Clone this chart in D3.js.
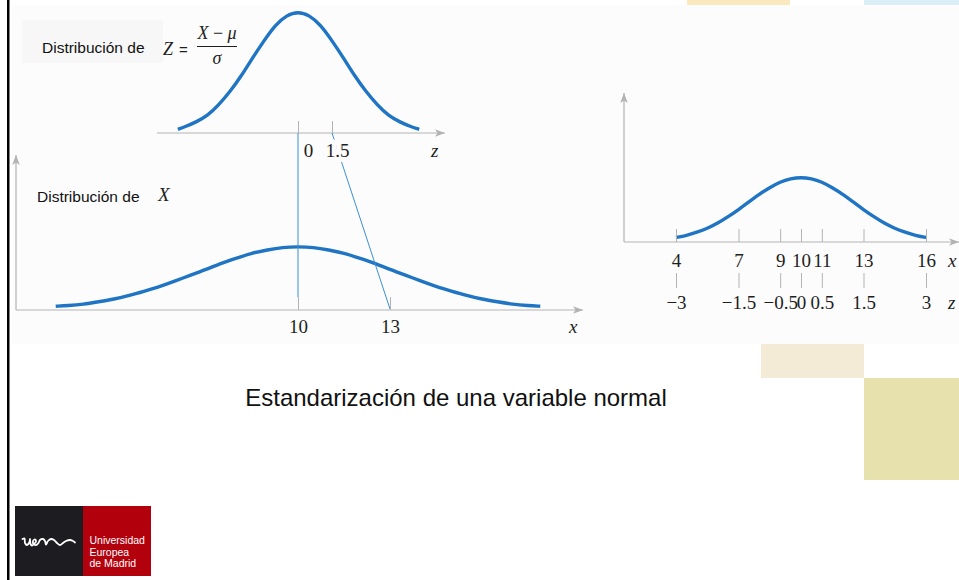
<!DOCTYPE html>
<html>
<head>
<meta charset="utf-8">
<script src="https://cdn.jsdelivr.net/npm/d3@7"></script>
<style>
  html, body { margin: 0; padding: 0; background: #fff; overflow: hidden; }
  svg { display: block; }
</style>
</head>
<body>
<div id="box1"><svg id="box1_svg"></svg></div>
<script>
"use strict";

// ---- data ----

// top panel: Z = (X - mu) / sigma
const z_ticks = [0, 1.5];
const z_tick_labels = ["0", "1.5"];
const z_curve_z = [-5.3, -5, -4.5, -4, -3.5, -3, -2.5, -2, -1.5, -1, -0.5, 0,
  0.5, 1, 1.5, 2, 2.5, 3, 3.5, 4, 4.5, 5, 5.35];
const z_curve_h = [0.03, 0.05, 0.09, 0.14, 0.23, 0.34, 0.47, 0.62, 0.76, 0.89, 0.97, 1,
  0.97, 0.89, 0.76, 0.62, 0.47, 0.34, 0.23, 0.14, 0.09, 0.05, 0.03];

// bottom left panel: X
const x_ticks = [10, 13];
const x_tick_labels = ["10", "13"];
const x_curve_x = [2.1, 2.5, 3, 3.5, 4, 4.5, 5, 5.5, 6, 6.5, 7, 7.5, 8, 8.5, 9, 9.5, 10,
  10.5, 11, 11.5, 12, 12.5, 13, 13.5, 14, 14.5, 15, 15.5, 16, 16.5, 17, 17.5, 17.9];
const x_curve_h = [0.06, 0.07, 0.09, 0.13, 0.17, 0.23, 0.30, 0.37, 0.46, 0.55, 0.64, 0.74, 0.82, 0.90, 0.95, 0.99, 1,
  0.99, 0.95, 0.90, 0.82, 0.74, 0.64, 0.55, 0.46, 0.37, 0.30, 0.23, 0.17, 0.13, 0.09, 0.07, 0.06];

// links z -> x
const link_z = [0, 1.5];
const link_x = [10, 13];

// right panel: x and z scales together
const r_ticks = [4, 7, 9, 10, 11, 13, 16];
const r_tick_labels = ["4", "7", "9", "10", "11", "13", "16"];
const r_z_labels = ["\u22123", "\u22121.5", "\u22120.5", "0", "0.5", "1.5", "3"];
const r_curve_x = [4, 4.5, 5, 5.5, 6, 6.5, 7, 7.5, 8, 8.5, 9, 9.5, 10,
  10.5, 11, 11.5, 12, 12.5, 13, 13.5, 14, 14.5, 15, 15.5, 16];
const r_curve_h = [0.07, 0.10, 0.15, 0.21, 0.29, 0.39, 0.50, 0.62, 0.74, 0.84, 0.93, 0.98, 1,
  0.98, 0.93, 0.84, 0.74, 0.62, 0.50, 0.39, 0.29, 0.21, 0.15, 0.10, 0.07];

const title = "Estandarización de una variable normal";
const logo_lines = ["Universidad", "Europea", "de Madrid"];

// ---- style ----
const c_curve = "#1f74c3";
const c_link = "#3b8fd8";
const c_axis = "#b3b3b3";
const c_text = "#1e1e1e";
const fig_bg = "#fcfcfc";
const num_font = "'Liberation Serif', 'Times New Roman', serif";
const sans_font = "'Liberation Sans', Arial, sans-serif";

const W = 959, H = 580;

const svg = d3.select("#box1_svg").attr("width", W).attr("height", H);

// arrow head for the axes
svg.append("defs").append("marker")
  .attr("id", "arrow")
  .attr("viewBox", "0 -5 10 10")
  .attr("refX", 10)
  .attr("refY", 0)
  .attr("markerWidth", 10)
  .attr("markerHeight", 10)
  .attr("markerUnits", "userSpaceOnUse")
  .attr("orient", "auto")
  .append("path")
  .attr("d", "M0,-3.8L10,0L0,3.8L2.5,0Z")
  .attr("fill", c_axis);

// ---- slide decoration ----
svg.append("rect").attr("x", 12).attr("y", 5).attr("width", W - 12).attr("height", 339).attr("fill", fig_bg);
svg.append("rect").attr("x", 687).attr("y", 0).attr("width", 103).attr("height", 5).attr("fill", "#fae9bf");
svg.append("rect").attr("x", 864).attr("y", 0).attr("width", 95).attr("height", 5).attr("fill", "#dbeef5");
svg.append("rect").attr("x", 761).attr("y", 344).attr("width", 103).attr("height", 34).attr("fill", "#f3ebd5");
svg.append("rect").attr("x", 864).attr("y", 378).attr("width", 95).attr("height", 102).attr("fill", "#e7e1ae");
svg.append("rect").attr("x", 7).attr("y", 0).attr("width", 2.5).attr("height", H).attr("fill", "#000");
svg.append("rect").attr("x", 22).attr("y", 20).attr("width", 141).attr("height", 43).attr("fill", "#f7f7f7");

// ---- scales ----
const z_scale = d3.scaleLinear().domain([0, 1.5]).range([298, 332]);
const top_y = d3.scaleLinear().domain([0, 1]).range([133, 11.5]);

const x_scale = d3.scaleLinear().domain([10, 13]).range([298, 390]);
const bot_y = d3.scaleLinear().domain([0, 1]).range([310, 246.7]);

const r_scale = d3.scaleLinear().domain([4, 16]).range([676, 926]);
const r_y = d3.scaleLinear().domain([0, 1]).range([242, 177.3]);

// ---- helpers ----
const axis_line = (x1, y1, x2, y2) => {
  svg.append("line")
    .attr("x1", x1).attr("y1", y1)
    .attr("x2", x2).attr("y2", y2)
    .attr("stroke", c_axis)
    .attr("stroke-width", 1.2)
    .attr("marker-end", "url(#arrow)");
};

const curve = (xs, hs, xsc, ysc) => {
  const line = d3.line()
    .x(i => xsc(xs[i]))
    .y(i => ysc(hs[i]))
    .curve(d3.curveBasis);
  svg.append("path")
    .attr("d", line(d3.range(xs.length)))
    .attr("fill", "none")
    .attr("stroke", c_curve)
    .attr("stroke-width", 3.4);
};

const style_axis = (g, halo) => {
  g.select(".domain").remove();
  g.attr("font-family", null).attr("font-size", null);
  g.selectAll(".tick line").attr("stroke", c_axis).attr("stroke-width", 1);
  const t = g.selectAll(".tick text")
    .attr("fill", c_text)
    .style("font-family", num_font)
    .style("font-size", "19px");
  if (halo) {
    t.attr("stroke", fig_bg)
      .attr("stroke-width", 10)
      .attr("stroke-linejoin", "round")
      .attr("paint-order", "stroke");
  }
  return g;
};

const italic = (txt, x, y, size) => {
  svg.append("text")
    .attr("x", x).attr("y", y)
    .attr("fill", c_text)
    .style("font-family", num_font)
    .style("font-style", "italic")
    .style("font-size", size + "px")
    .text(txt);
};

// ---- axes lines ----
axis_line(157, 133, 445, 133);          // z axis
axis_line(16, 310, 583, 310);           // x axis
axis_line(16, 310, 16, 155);            // y axis bottom panel
axis_line(624, 242, 959, 242);          // right x axis
axis_line(624, 242, 624, 93);           // right y axis

// ---- curves ----
curve(z_curve_z, z_curve_h, z_scale, top_y);
curve(x_curve_x, x_curve_h, x_scale, bot_y);
curve(r_curve_x, r_curve_h, r_scale, r_y);

// ---- links from z ticks to x ticks ----
svg.selectAll("line.link")
  .data(link_z)
  .join("line")
  .attr("class", "link")
  .attr("x1", d => z_scale(d))
  .attr("y1", 133)
  .attr("x2", (d, i) => x_scale(link_x[i]))
  .attr("y2", (d, i) => i === 0 ? 297 : 309)
  .attr("stroke", c_link)
  .attr("stroke-width", 1);

// ---- tick axes ----
const z_label_dx = [10, 5];
const g_top = svg.append("g")
  .attr("transform", "translate(0,133)")
  .call(d3.axisBottom(z_scale)
    .tickValues(z_ticks)
    .tickFormat((d, i) => z_tick_labels[i])
    .tickSizeInner(-12)
    .tickSizeOuter(0)
    .tickPadding(10.5));
style_axis(g_top, true);
g_top.selectAll(".tick text").attr("dx", (d, i) => z_label_dx[i]);

const g_bot = svg.append("g")
  .attr("transform", "translate(0,310)")
  .call(d3.axisBottom(x_scale)
    .tickValues(x_ticks)
    .tickFormat((d, i) => x_tick_labels[i])
    .tickSizeInner(-13)
    .tickSizeOuter(0)
    .tickPadding(9.5));
style_axis(g_bot, false);

const g_r1 = svg.append("g")
  .attr("transform", "translate(0,242)")
  .call(d3.axisBottom(r_scale)
    .tickValues(r_ticks)
    .tickFormat((d, i) => r_tick_labels[i])
    .tickSizeInner(-13)
    .tickSizeOuter(0)
    .tickPadding(11.5));
style_axis(g_r1, false);

const g_r2 = svg.append("g")
  .attr("transform", "translate(0,273)")
  .call(d3.axisBottom(r_scale)
    .tickValues(r_ticks)
    .tickFormat((d, i) => r_z_labels[i])
    .tickSizeInner(15)
    .tickSizeOuter(0)
    .tickPadding(7.5));
style_axis(g_r2, false);

// axis names
italic("z", 431, 157, 19);
italic("x", 569, 333, 19);
italic("x", 948, 267, 19);
italic("z", 948, 309, 19);

// ---- panel labels ----
const label = (txt, x, y) => {
  svg.append("text")
    .attr("x", x).attr("y", y)
    .attr("fill", "#111")
    .style("font-family", sans_font)
    .style("font-size", "15.5px")
    .text(txt);
};
label("Distribución de", 42, 53);
label("Distribución de", 37, 202);

italic("Z", 163, 55, 18);
svg.append("text")
  .attr("x", 179).attr("y", 55)
  .attr("fill", c_text)
  .style("font-family", sans_font)
  .style("font-size", "15px")
  .text("=");
const num = svg.append("text")
  .attr("x", 217).attr("y", 39)
  .attr("text-anchor", "middle")
  .attr("fill", c_text)
  .style("font-family", num_font)
  .style("font-size", "18px");
num.append("tspan").style("font-style", "italic").text("X");
num.append("tspan").text(" \u2212 ");
num.append("tspan").style("font-style", "italic").text("\u03bc");
svg.append("line")
  .attr("x1", 197).attr("x2", 237)
  .attr("y1", 46.5).attr("y2", 46.5)
  .attr("stroke", c_text).attr("stroke-width", 1);
svg.append("text")
  .attr("x", 217).attr("y", 64)
  .attr("text-anchor", "middle")
  .attr("fill", c_text)
  .style("font-family", num_font)
  .style("font-style", "italic")
  .style("font-size", "18px")
  .text("\u03c3");

italic("X", 158, 201, 19);

// ---- title ----
svg.append("text")
  .attr("x", 456).attr("y", 406)
  .attr("text-anchor", "middle")
  .attr("fill", "#111")
  .style("font-family", sans_font)
  .style("font-size", "24px")
  .text(title);

// ---- logo ----
svg.append("rect").attr("x", 15).attr("y", 506).attr("width", 68).attr("height", 70).attr("fill", "#1c1c21");
svg.append("rect").attr("x", 83).attr("y", 506).attr("width", 68).attr("height", 70).attr("fill", "#b3000d");

// hand-written "ue" mark
const logo_pts = [[22.5, 539], [24.5, 538.5], [25, 543], [27, 545], [29.5, 542], [30, 539], [30.5, 544],
  [32, 545.5], [34, 544], [36, 541.5], [35, 539.5], [33, 541], [33.5, 544], [36, 545], [38.5, 543],
  [40, 540], [43, 539], [45, 541], [46, 544.5], [48, 541], [51, 539], [54, 540], [57, 543], [60, 545],
  [63, 543], [66, 541], [70, 540], [73, 541], [75, 542.5]];
svg.append("path")
  .attr("d", d3.line().curve(d3.curveCatmullRom)(logo_pts))
  .attr("fill", "none")
  .attr("stroke", "#fff")
  .attr("stroke-width", 1.8)
  .attr("stroke-linecap", "round");

svg.selectAll("text.logo")
  .data(logo_lines)
  .join("text")
  .attr("class", "logo")
  .attr("x", 89.5)
  .attr("y", (d, i) => 544 + i * 11.5)
  .attr("fill", "#fff")
  .style("font-family", sans_font)
  .style("font-size", "10.5px")
  .text(d => d);
</script>
</body>
</html>
